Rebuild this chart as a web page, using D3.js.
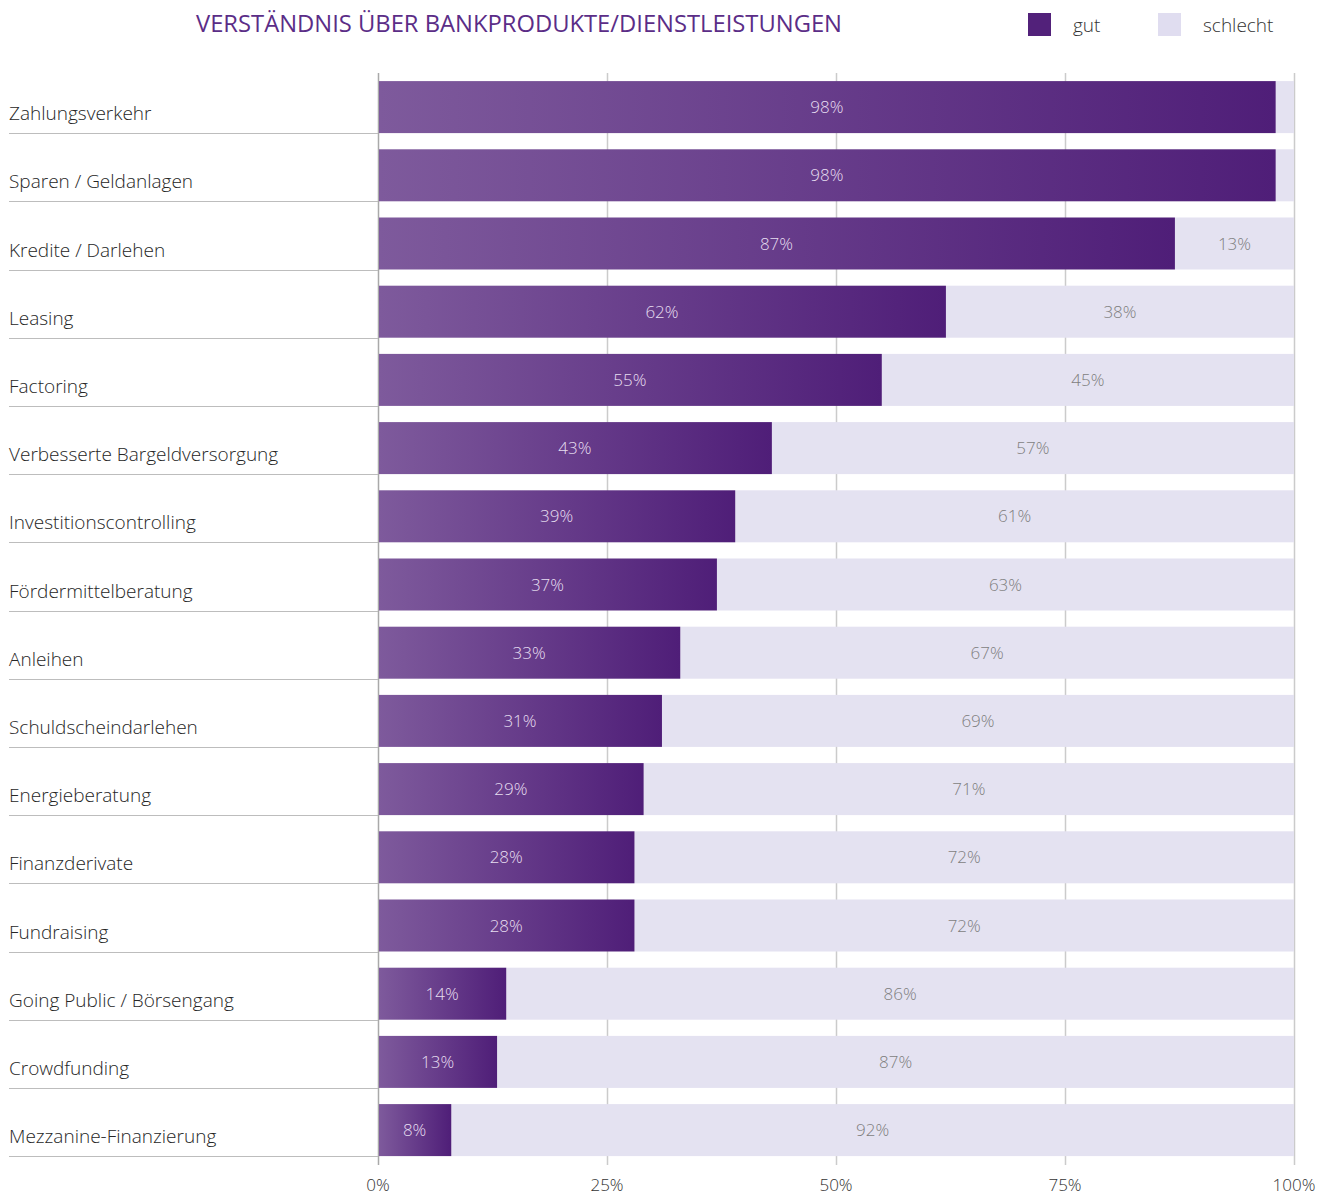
<!DOCTYPE html>
<html>
<head>
<meta charset="utf-8">
<script src="https://cdn.jsdelivr.net/npm/d3@7"></script>
<style>
  body { margin: 0; background: #fff; }
  text { font-family: "Open Sans", "Noto Sans", sans-serif; }
</style>
</head>
<body>
<script>
//chart data
var categories = [
    "Zahlungsverkehr", "Sparen / Geldanlagen", "Kredite / Darlehen", "Leasing",
    "Factoring", "Verbesserte Bargeldversorgung", "Investitionscontrolling",
    "Fördermittelberatung", "Anleihen", "Schuldscheindarlehen", "Energieberatung",
    "Finanzderivate", "Fundraising", "Going Public / Börsengang", "Crowdfunding",
    "Mezzanine-Finanzierung"
];
var gut = [98, 98, 87, 62, 55, 43, 39, 37, 33, 31, 29, 28, 28, 14, 13, 8];
var schlecht = [2, 2, 13, 38, 45, 57, 61, 63, 67, 69, 71, 72, 72, 86, 87, 92];
var tickValues = [0, 25, 50, 75, 100];
var seriesNames = ["gut", "schlecht"];

var w = 1333, h = 1195;

var rows = categories.map(function(c, i){
    return { name: c, gut: gut[i], schlecht: schlecht[i] };
});

var svg = d3.select("body").append("svg")
    .attr("width", w)
    .attr("height", h);

var defs = svg.append("defs");
var grad = defs.append("linearGradient")
    .attr("id", "gutGrad")
    .attr("x1", "0%").attr("x2", "100%")
    .attr("y1", "0%").attr("y2", "0%");
grad.append("stop").attr("offset", "0%").attr("stop-color", "#7e5a9c");
grad.append("stop").attr("offset", "100%").attr("stop-color", "#4f1e78");

//scales
var x = d3.scaleLinear().domain([0, 100]).range([378, 1294]);
var y = d3.scaleBand()
    .domain(categories)
    .range([73, 73 + categories.length * 68.2])
    .paddingInner(0.2375)
    .paddingOuter(0.11875);

//gridlines behind the bars
svg.append("g").selectAll("line")
    .data(tickValues)
    .enter().append("line")
    .attr("x1", function(d){ return x(d) + 0.5; })
    .attr("x2", function(d){ return x(d) + 0.5; })
    .attr("y1", 73)
    .attr("y2", 1165)
    .style("stroke", function(d){ return d === 0 ? "#a9a9a9" : "#cbcbcb"; })
    .style("stroke-width", 1.5);

//separator lines under category labels
svg.append("g").selectAll("line")
    .data(categories)
    .enter().append("line")
    .attr("x1", 9)
    .attr("x2", x(0))
    .attr("y1", function(d){ return Math.round(y(d) + y.bandwidth()) + 0.5; })
    .attr("y2", function(d){ return Math.round(y(d) + y.bandwidth()) + 0.5; })
    .style("stroke", "#bdbdbd")
    .style("stroke-width", 1.2);

//category labels
svg.append("g").selectAll("text")
    .data(categories)
    .enter().append("text")
    .attr("x", 9)
    .attr("y", function(d){ return y(d) + y.bandwidth() - 13; })
    .style("font-size", "19px")
    .style("font-weight", 300)
    .style("fill", "#262626")
    .text(function(d){ return d; });

var bars = svg.append("g").selectAll("g")
    .data(rows)
    .enter().append("g");

//schlecht segment
bars.append("rect")
    .attr("x", function(d){ return x(d.gut); })
    .attr("y", function(d){ return y(d.name); })
    .attr("width", function(d){ return x(100) - x(d.gut); })
    .attr("height", y.bandwidth())
    .style("fill", "#e4e2f1");

//gut segment
bars.append("rect")
    .attr("x", x(0) + 1)
    .attr("y", function(d){ return y(d.name); })
    .attr("width", function(d){ return x(d.gut) - x(0) - 1; })
    .attr("height", y.bandwidth())
    .style("fill", "url(#gutGrad)");

//value labels
bars.append("text")
    .attr("text-anchor", "middle")
    .attr("x", function(d){ return (x(0) + x(d.gut)) / 2; })
    .attr("y", function(d){ return y(d.name) + y.bandwidth() / 2 + 6; })
    .style("font-size", "17px")
    .style("font-weight", 300)
    .style("fill", "#e6def0")
    .text(function(d){ return d.gut + "%"; });

bars.filter(function(d){ return d.schlecht >= 5; })
    .append("text")
    .attr("text-anchor", "middle")
    .attr("x", function(d){ return (x(d.gut) + x(100)) / 2; })
    .attr("y", function(d){ return y(d.name) + y.bandwidth() / 2 + 6; })
    .style("font-size", "17px")
    .style("font-weight", 300)
    .style("fill", "#7e7e7e")
    .text(function(d){ return d.schlecht + "%"; });

//x axis tick labels
svg.append("g").selectAll("text")
    .data(tickValues)
    .enter().append("text")
    .attr("text-anchor", "middle")
    .attr("x", function(d){ return x(d); })
    .attr("y", 1191)
    .style("font-size", "17px")
    .style("font-weight", 300)
    .style("fill", "#333")
    .text(function(d){ return d + "%"; });

//title
svg.append("text")
    .attr("x", 196)
    .attr("y", 32)
    .attr("textLength", 646)
    .attr("lengthAdjust", "spacingAndGlyphs")
    .style("font-size", "23px")
    .style("fill", "#5b2d87")
    .text("VERSTÄNDNIS ÜBER BANKPRODUKTE/DIENSTLEISTUNGEN");

//legend
var legendX = [1028, 1158];
var legendColors = ["#52217a", "#e0ddf0"];
var legend = svg.append("g").selectAll("g")
    .data(seriesNames)
    .enter().append("g")
    .attr("transform", function(d, i){ return "translate(" + legendX[i] + ",13)"; });
legend.append("rect")
    .attr("width", 23)
    .attr("height", 23)
    .style("fill", function(d, i){ return legendColors[i]; });
legend.append("text")
    .attr("x", 45)
    .attr("y", 19)
    .style("font-size", "19px")
    .style("font-weight", 300)
    .style("fill", "#333")
    .text(function(d){ return d; });
</script>
</body>
</html>
